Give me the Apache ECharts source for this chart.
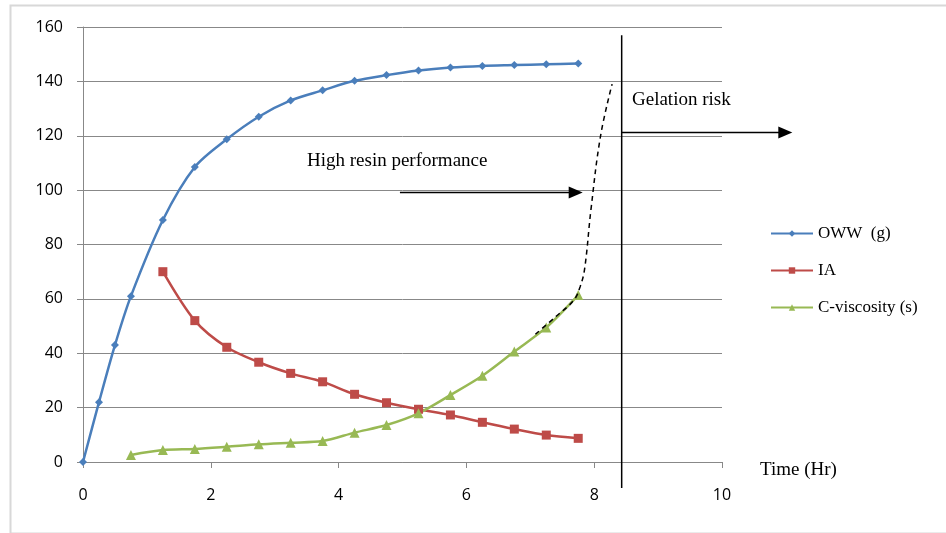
<!DOCTYPE html>
<html>
<head>
<meta charset="utf-8">
<script src="https://cdn.jsdelivr.net/npm/echarts@6/dist/echarts.min.js"></script>
<style>
  html, body { margin: 0; padding: 0; background: #fff; }
  #chart { width: 946px; height: 533px; }
</style>
</head>
<body>
<div id="chart"></div>
<script>
// time (hr) of each reading
const owwTime = [0, 0.25, 0.5, 0.75, 1.25, 1.75, 2.25, 2.75, 3.25, 3.75, 4.25, 4.75, 5.25, 5.75, 6.25, 6.75, 7.25, 7.75];
const owwValues = [0, 22, 43, 61, 89, 108.5, 118.7, 127, 133, 136.7, 140.2, 142.3, 144, 145.1, 145.7, 146, 146.3, 146.6];

const iaTime = [1.25, 1.75, 2.25, 2.75, 3.25, 3.75, 4.25, 4.75, 5.25, 5.75, 6.25, 6.75, 7.25, 7.75];
const iaValues = [70, 52, 42.2, 36.7, 32.6, 29.5, 24.9, 21.8, 19.4, 17.3, 14.6, 12.1, 9.9, 8.7];

const viscTime = [0.75, 1.25, 1.75, 2.25, 2.75, 3.25, 3.75, 4.25, 4.75, 5.25, 5.75, 6.25, 6.75, 7.25, 7.75];
const viscValues = [2.6, 4.4, 4.8, 5.6, 6.5, 7.1, 7.7, 10.8, 13.6, 17.9, 24.6, 31.7, 40.6, 49.5, 61.4];

// extrapolated viscosity trend (dashed)
const trendTime = [7.08, 7.4, 7.68, 7.78, 7.85, 7.95, 8.1, 8.28];
const trendValues = [47, 53.5, 59.5, 64.5, 71, 93, 120, 139];

// gelation limit and arrows
const gelTime = 8.43;
const gelLineRange = [-9.6, 157];
const arrows = [
  [[8.43, 121.3], [11.1, 121.3]],
  [[4.96, 99.3], [7.82, 99.3]]
];

const names = ['OWW  (g)', 'IA', 'C-viscosity (s)'];
const colors = ['#4a7ebb', '#be4b48', '#98b954'];

const zip = (xs, ys) => xs.map((x, i) => [x, ys[i]]);

const chart = echarts.init(document.getElementById('chart'));
const serif = '"Liberation Serif", "DejaVu Serif", serif';
const sans = '"Open Sans", "Noto Sans", sans-serif';

const texts = [
  { type: 'rect', left: 8, top: 3, shape: { width: 945, height: 528 }, style: { fill: 'none', stroke: '#d8d8d8', lineWidth: 2 }, z: -1 },
  { type: 'text', left: 307, top: 152, style: { text: 'High resin performance', font: '19px ' + serif, fill: '#000' } },
  { type: 'text', left: 632, top: 91, style: { text: 'Gelation risk', font: '19px ' + serif, fill: '#000' } },
  { type: 'text', left: 760, top: 461, style: { text: 'Time (Hr)', font: '19px ' + serif, fill: '#000' } }
];

const option = {
  animation: false,
  backgroundColor: '#fff',
  color: colors,
  grid: { left: 83, right: 224, top: 27, bottom: 71 },
  legend: {
    data: names,
    orient: 'vertical',
    left: 765,
    top: 220,
    itemGap: 20,
    itemWidth: 42,
    itemHeight: 8,
    textStyle: { fontFamily: serif, fontSize: 17, color: '#000' }
  },
  xAxis: {
    type: 'value',
    min: 0,
    max: 10,
    interval: 2,
    axisLine: { show: true, lineStyle: { color: '#888' } },
    axisTick: { show: true, length: 6, lineStyle: { color: '#888' } },
    axisLabel: { margin: 25, fontFamily: sans, fontSize: 16, color: '#000' },
    splitLine: { show: false }
  },
  yAxis: {
    type: 'value',
    min: 0,
    max: 160,
    interval: 20,
    axisLine: { show: true, lineStyle: { color: '#888' } },
    axisTick: { show: true, length: 6, lineStyle: { color: '#888' } },
    axisLabel: { margin: 20, fontFamily: sans, fontSize: 16, color: '#000' },
    splitLine: { show: true, lineStyle: { color: '#888', width: 1 } }
  },
  graphic: texts,
  series: [
    {
      name: names[0], type: 'line', smooth: 0.3, data: zip(owwTime, owwValues),
      symbol: 'diamond', symbolSize: 8, lineStyle: { width: 2.5 }, z: 3
    },
    {
      name: names[1], type: 'line', smooth: 0.3, data: zip(iaTime, iaValues),
      symbol: 'rect', symbolSize: 9, lineStyle: { width: 2.5 }, z: 3
    },
    {
      name: names[2], type: 'line', smooth: 0.3, data: zip(viscTime, viscValues),
      symbol: 'triangle', symbolSize: 10, lineStyle: { width: 2.5 }, z: 3
    },
    {
      name: 'trend', type: 'line', smooth: 0.4, data: zip(trendTime, trendValues),
      symbol: 'none', clip: false, silent: true, z: 4,
      lineStyle: { color: '#000', width: 1.5, type: [5, 4] }
    },
    {
      name: 'limit', type: 'line', data: gelLineRange.map(v => [gelTime, v]),
      symbol: 'none', clip: false, silent: true, z: 4,
      lineStyle: { color: '#000', width: 1.5 }
    }
  ]
};
chart.setOption(option);

// arrows drawn from data coords converted to pixels
const arrowGraphics = [];
arrows.forEach(a => {
  const p0 = chart.convertToPixel({ gridIndex: 0 }, a[0]);
  const p1 = chart.convertToPixel({ gridIndex: 0 }, a[1]);
  const y = Math.round(p0[1]) + 0.5;
  arrowGraphics.push({
    type: 'line', shape: { x1: p0[0], y1: y, x2: p1[0] - 12, y2: y },
    style: { stroke: '#000', lineWidth: 1.6 }, z: 10
  });
  arrowGraphics.push({
    type: 'polygon', shape: { points: [[p1[0], y], [p1[0] - 14, y - 6], [p1[0] - 14, y + 6]] },
    style: { fill: '#000' }, z: 10
  });
});
chart.setOption({ graphic: texts.concat(arrowGraphics) });
</script>
</body>
</html>
